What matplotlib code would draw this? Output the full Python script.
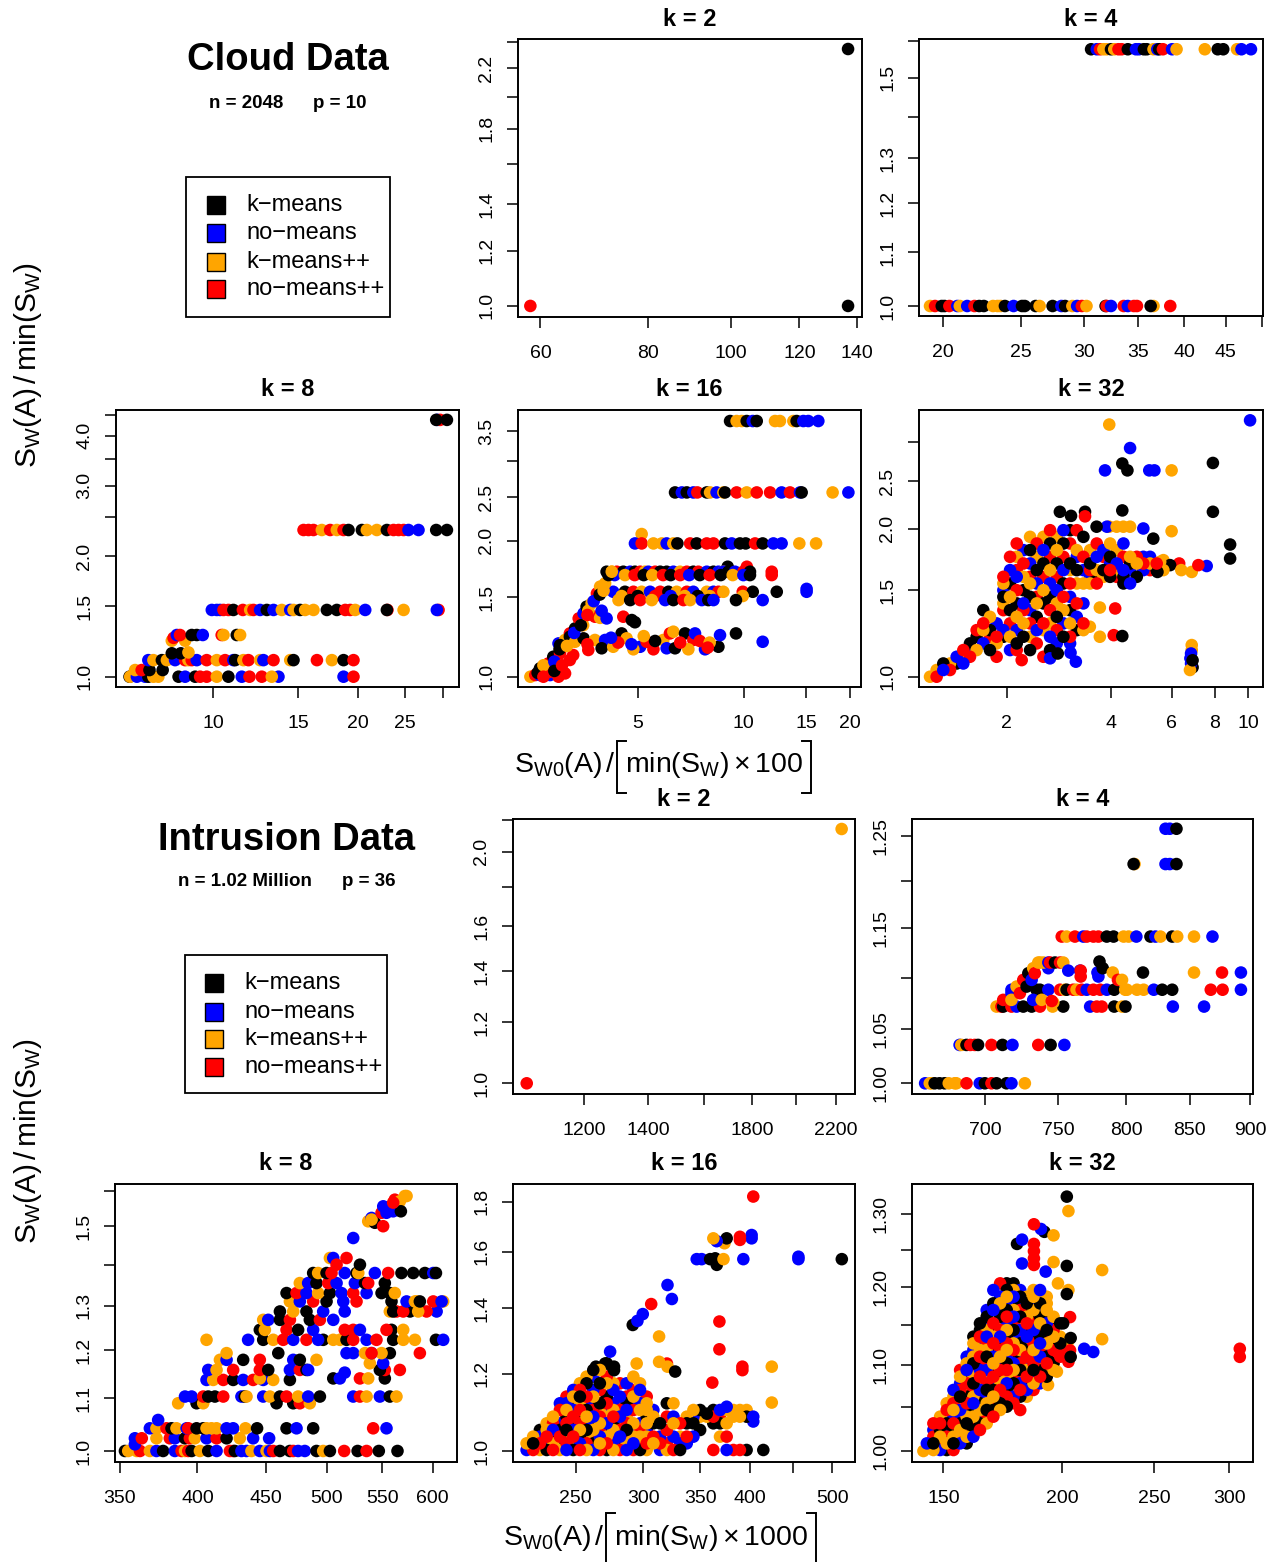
import matplotlib
matplotlib.use("Agg")
import matplotlib.pyplot as plt
from matplotlib.ticker import NullLocator
from matplotlib.patches import Rectangle

plt.rcParams['font.family'] = ['Liberation Sans', 'DejaVu Sans']
plt.rcParams['mathtext.fontset'] = 'custom'
plt.rcParams['mathtext.rm'] = 'Liberation Sans'
plt.rcParams['mathtext.it'] = 'Liberation Sans:italic'

# methods and their colours (K=k-means, B=no-means, O=k-means++, R=no-means++)
method_codes = "KBOR"
method_names = ["k\u2212means", "no\u2212means", "k\u2212means++", "no\u2212means++"]
method_colors = ["black", "blue", "orange", "red"]

# ---------------- Cloud data ----------------
cloud_k2_x = [58.4, 136.7, 136.7]
cloud_k2_y = [1.0, 1.0, 2.343]
cloud_k2_m = "RKK"

# rows: (y, x values, methods)
cloud_k4_rows = [
    (1.0, [19.28, 19.56, 19.94, 20.1, 20.38, 20.85, 21.0, 21.45, 21.9, 22.2, 22.5, 23.1, 23.4, 23.6, 23.9,
           24.5, 25.1, 25.3, 26.1, 26.4, 27.4, 28.1, 28.4, 29.0, 29.4, 29.8, 30.2, 31.9, 32.0, 32.4, 33.6,
           34.0, 34.6, 34.9, 36.6, 36.3, 38.4], "ORKKRBOBRKKOOOKBKKKOKBKOBROKRBRBRROKR"),
    (1.578, [30.6, 31.1, 31.4, 31.7, 32.0, 32.4, 32.7, 33.1, 33.4, 34.0, 34.8, 35.1, 35.6, 35.9, 36.6, 37.0,
             37.2, 37.6, 38.6, 39.1, 42.4, 44.0, 44.7, 46.5, 47.1, 48.4], "KBROOKORRKBBKKOBKRBOOKKOBB"),
]

cloud_k8_rows = [
    (1.0, [6.69, 6.71, 6.93, 7.21, 7.32, 7.50, 7.68, 8.46, 8.73, 9.16, 9.38, 9.68, 10.16, 10.74, 11.45, 11.88,
           12.60, 13.65, 13.22, 18.64, 19.55], "KOBBKOOKBKRROKBRRBOBR"),
    (1.039, [6.87, 7.09, 7.36, 7.84], "ORKK"),
    (1.10, [7.32, 7.50, 7.81, 8.0, 8.32, 8.73, 8.87, 9.01, 9.23, 9.68, 10.16, 10.57, 11.0, 11.09, 11.54, 11.82,
            12.50, 12.70, 13.33, 14.44, 14.67, 16.41, 17.63, 18.64, 19.55], "BOKOBRORBRORBKOROBROKROKR"),
    (1.144, [8.19, 8.55], "KK"),
    (1.15, [8.87], "O"),
    (1.23, [8.19, 8.73], "OO"),
    (1.25, [8.26], "R"),
    (1.271, [8.39, 8.52, 9.01, 9.23, 9.50, 10.40, 10.49, 11.18, 11.36], "BRKKBROKO"),
    (1.468, [9.92, 10.16, 10.32, 10.49, 10.74, 11.0, 11.51, 11.92, 12.11, 12.50, 12.91, 13.33, 13.87, 14.44,
             14.67, 15.14, 15.51, 16.14, 17.21, 18.05, 18.79, 19.24, 19.71, 20.68, 23.0, 22.94, 24.85, 29.38,
             29.14], "BBBRRKRORBKBOBOKOOKKRROBRKORB"),
    (2.325, [15.39, 15.76, 16.14, 16.80, 17.48, 18.05, 18.64, 19.09, 20.35, 20.84, 21.86, 22.94, 23.68, 24.26,
             24.85, 25.44, 26.69, 29.05, 30.58], "RRRORORKKOOKRRRBBKK"),
    (4.38, [29.2, 29.6, 29.05, 30.58], "BRKK"),
]

cloud_k16_rows = [
    (3.683, [9.14, 9.54, 9.86, 10.19, 10.60, 10.88, 12.26, 12.66, 13.82, 14.12, 14.75, 15.24, 16.27],
     "KOOKBKOOOKBBB"),
    (2.559, [6.38, 6.67, 6.89, 7.19, 7.38, 7.85, 8.02, 8.37, 8.75, 8.84, 9.54, 10.19, 10.88, 11.87, 12.80,
             13.52, 14.43, 14.59, 17.86, 19.80], "KBKBRKOBOKRORRBRBKOB"),
    (2.07, [5.13], "O"),
    (1.973, [4.91, 5.13, 5.54, 5.85, 6.04, 6.31, 6.48, 7.04, 7.35, 7.85, 8.20, 8.84, 9.24, 9.75, 10.12, 10.76,
             11.31, 12.13, 12.80, 14.37, 16.03], "BROOBOKRKRRKBKKRKBBOO"),
    (1.752, [9.0, 10.2], "KR"),
    (1.708, [4.08, 4.22, 4.36, 4.55, 4.76, 4.91, 5.08, 5.24, 5.36, 5.60, 5.79, 6.04, 6.31, 6.59, 6.89, 7.19,
             7.43, 7.85, 8.20, 8.47, 8.75, 8.75, 9.04, 9.44, 9.97, 10.30, 10.41, 12.0],
     "KORKBKROBRKKBORKRBKBOBKBRRKR"),
    (1.679, [4.3, 4.6, 4.9, 5.2, 5.5, 5.9, 6.2, 6.6, 7.0, 7.5, 8.0, 8.6, 9.3, 9.97, 10.41, 12.0],
     "BORKORKRBKRKOBKR"),
    (1.565, [15.07], "B"),
    (1.542, [4.26, 4.60, 4.86, 5.13, 5.42, 5.79, 6.11, 6.45, 6.89, 7.19, 7.85, 8.20, 8.47, 8.75, 9.93, 10.60,
             12.40, 15.07], "BKROBRKORBOBRORKKB"),
    (1.509, [4.5, 5.0, 5.6, 6.2, 6.8, 7.4, 8.0, 9.93], "OKRBOKOO"),
    (1.478, [4.41, 4.76, 5.08, 5.48, 5.98, 6.31, 6.74, 7.04, 7.60, 7.93, 8.20, 9.50, 11.31], "OKROBKROBKBKB"),
]
cloud_k16_x = [2.48, 2.56, 2.64, 2.73, 2.79, 2.82, 2.88, 2.98, 3.01, 3.11, 3.21, 3.32, 3.40, 3.51, 3.58, 3.70,
               3.83, 3.91, 4.04, 4.13, 4.22,
               2.82, 3.01, 3.11, 3.21, 2.64, 2.98,
               3.78, 3.91, 4.08, 4.55, 4.81, 4.91, 3.62, 3.95, 3.5,
               3.01, 3.21, 3.32, 3.51, 3.62, 3.78, 4.04, 3.95, 4.26, 4.50, 4.65, 5.08, 5.30, 5.91, 6.17, 6.04,
               6.38, 6.31, 6.81, 7.19, 7.27, 6.96, 8.47, 7.76, 8.56, 9.50, 11.31, 5.54, 4.86, 3.28,
               3.6, 4.4, 4.8, 5.6, 6.6, 7.5, 8.0, 5.2, 4.2, 7.9,
               2.6, 2.7, 2.9, 3.0, 3.15, 3.3, 3.45, 3.6, 3.75, 3.9, 4.0, 2.7, 2.9, 3.05]
cloud_k16_y = [1.0, 1.0085, 1.0434, 1.0346, 1.070, 1.0085, 1.107, 1.185, 1.126, 1.206, 1.247, 1.279, 1.346,
               1.381, 1.429, 1.454, 1.529, 1.583, 1.610, 1.679, 1.708,
               1.0258, 1.0346, 1.017, 1.089, 1.0085, 1.0,
               1.358, 1.35, 1.346, 1.358, 1.335, 1.32, 1.40, 1.40, 1.3,
               1.175, 1.226, 1.195, 1.216, 1.146, 1.206, 1.206, 1.156, 1.165, 1.247, 1.216, 1.165, 1.195,
               1.206, 1.247, 1.156, 1.156, 1.258, 1.247, 1.206, 1.247, 1.150, 1.165, 1.150, 1.236, 1.247,
               1.195, 1.150, 1.150, 1.117,
               1.18, 1.19, 1.18, 1.2, 1.19, 1.2, 1.19, 1.23, 1.22, 1.16,
               1.02, 1.06, 1.08, 1.15, 1.17, 1.25, 1.30, 1.37, 1.47, 1.52, 1.55, 1.0, 1.03, 1.06]
cloud_k16_m = ("ORKBRBKBRORKRBKOROOKO" + "RORRBR" + "ROBRKKOBO"
               + "KKOKROBKOKOBRORBKOKRBOKBBKBROR" + "RRBKRROOBR" + "KOBKOBKRBKORKR")

# columns: (x, y values, methods)
cloud_k32_cols = [
    (1.20, [1.0], "O"),
    (1.254, [1.0, 1.032], "RO"),
    (1.311, [1.032, 1.064], "BK"),
    (1.371, [1.064, 1.032], "OR"),
    (1.433, [1.098, 1.064], "BK"),
    (1.498, [1.133, 1.098, 1.064], "ROB"),
    (1.566, [1.169, 1.133, 1.098], "KBR"),
    (1.637, [1.244, 1.206, 1.133], "RKO"),
    (1.711, [1.366, 1.284, 1.244, 1.169], "KROB"),
    (1.789, [1.324, 1.244, 1.206, 1.133], "OKRK"),
    (1.870, [1.284, 1.206, 1.169, 1.098], "BROR"),
    (1.956, [1.597, 1.548, 1.500, 1.454, 1.410, 1.366, 1.244, 1.206], "ROBKORBK"),
    (2.045, [1.754, 1.648, 1.548, 1.454, 1.366, 1.284, 1.206, 1.133], "RBKOKROB"),
    (2.138, [1.867, 1.754, 1.648, 1.597, 1.500, 1.410, 1.324, 1.244, 1.169, 1.133], "RORBRKOBKR"),
    (2.236, [1.810, 1.700, 1.597, 1.500, 1.410, 1.366, 1.284, 1.206], "BROKBROK"),
    (2.337, [1.926, 1.810, 1.700, 1.597, 1.548, 1.454, 1.366, 1.284, 1.206, 1.133], "OKBROKBROK"),
    (2.443, [1.867, 1.754, 1.648, 1.548, 1.454, 1.410, 1.324, 1.244, 1.169], "ROKBROKBR"),
    (2.554, [1.926, 1.810, 1.700, 1.597, 1.500, 1.410, 1.284, 1.244, 1.098], "OBKROKROR"),
    (2.670, [1.987, 1.867, 1.754, 1.648, 1.548, 1.454, 1.366, 1.284, 1.206, 1.133], "RKROBKROBK"),
    (2.792, [1.926, 1.810, 1.700, 1.597, 1.500, 1.410, 1.324, 1.244, 1.169], "OOKRBOKRB"),
    (2.918, [1.987, 1.867, 1.754, 1.648, 1.548, 1.454, 1.366, 1.284, 1.206], "BKRBKROBK"),
    (3.051, [1.987, 1.867, 1.700, 1.648, 1.548, 1.454, 1.366, 1.284, 1.206, 1.169], "KRKORBKORB"),
    (3.19, [1.987, 1.810, 1.754, 1.648, 1.548, 1.410, 1.324, 1.244], "ROBKORBK"),
    (3.334, [1.926, 1.754, 1.648, 1.548, 1.410, 1.284, 1.244], "KRBOBRO"),
    (3.486, [1.810, 1.700, 1.648, 1.597, 1.548], "OKRBO"),
    (3.644, [1.867, 1.754, 1.648, 1.597, 1.548], "RBOKR"),
    (3.81, [1.810, 1.754, 1.648, 1.597], "BRKO"),
    (3.983, [1.867, 1.754, 1.700, 1.648, 1.597], "OKBRK"),
    (4.164, [1.810, 1.700, 1.648, 1.597], "OBOR"),
    (4.353, [1.867, 1.754, 1.648, 1.597, 1.548], "BRBKK"),
    (4.551, [1.754, 1.700, 1.648, 1.548], "OKBB"),
    (4.758, [1.754, 1.700, 1.597], "ROK"),
    (4.97, [1.754, 1.700, 1.648], "BRB"),
    (5.197, [1.754, 1.700, 1.648], "BOR"),
    (5.433, [1.700, 1.648], "RK"),
    (5.68, [1.727, 1.648], "OO"),
]
cloud_k32_x = [10.12, 3.96, 4.55, 4.32, 4.47, 3.85, 5.17, 5.35, 6.0, 7.90, 7.90, 4.32, 8.86, 8.86, 6.0, 4.97,
               5.31, 3.96, 4.16, 4.35, 4.55, 3.64, 3.90, 2.85, 3.07, 3.37, 3.37, 5.56, 6.31, 6.40, 6.86, 7.17,
               7.58, 5.94, 5.46, 3.72, 4.12, 4.32, 3.72, 4.08, 3.48, 3.17, 2.81, 2.67, 2.21, 3.06,
               6.86, 6.86, 6.83, 6.80, 6.90, 6.83, 6.90, 6.78]
cloud_k32_y = [3.325, 3.26, 2.92, 2.716, 2.63, 2.63, 2.63, 2.63, 2.63, 2.723, 2.166, 2.18, 1.858, 1.740, 1.978,
               2.003, 1.91, 2.02, 2.02, 2.02, 2.02, 2.02, 2.02, 2.166, 2.125, 2.166, 2.12, 1.714, 1.70, 1.648,
               1.634, 1.687, 1.680, 1.687, 1.634, 1.383, 1.377, 1.210, 1.206, 1.215, 1.264, 1.073, 1.115, 1.09,
               1.081, 1.119,
               1.16, 1.133, 1.115, 1.09, 1.08, 1.064, 1.045, 1.032]
cloud_k32_m = ("BOBKKBBBOK" + "KKKKOBKOOO" + "OKBKKKRORO" + "ORBKKORKOR" + "OBKBRB"
               + "OOBBKBKO")

# ---------------- Intrusion data ----------------
intr_k2_x = [1045, 2232]
intr_k2_y = [1.0, 2.141]
intr_k2_m = "RO"

intr_k4_rows = [
    (1.0, [661, 663.9, 665, 667, 670.1, 673.3, 676, 679.8, 680.9, 687.5, 696.2, 699.6, 704.0, 707.4, 714.1,
           717.5, 726.7], "BOOKKKOOORBKRKKBO"),
    (1.0352, [683, 684.1, 687.5, 690, 692.9, 695.1, 704.0, 711.4, 718.2, 736.0, 744.7, 754.5], "BOKRRKRKBRKB"),
    (1.0716, [707.4, 710.7, 711.9, 717.5, 721.0, 725.6, 731.4, 737.2, 746.1, 753.7, 773.2, 778.1, 781.8, 791.1,
              797.0, 799.6, 836.4, 861.6], "ORKRBKKROKBRRKOKBB"),
    (1.088, [717.5, 723.3, 734.8, 737.2, 743.1, 751.4, 754.9, 756.1, 760.9, 763.3, 767.0, 770.7, 775.6, 780.6,
             785.5, 791.1, 799.4, 800.7, 808.4, 813.5, 821.4, 828.0, 835.9, 867.1, 876.9, 892.3],
     "BOKKBROKRORBRRBKOOOOBKKRRB"),
    (1.1414, [752.6, 756.1, 762.1, 768.2, 770.7, 775.6, 779.3, 785.5, 790.6, 798.2, 802.0, 807.9, 818.8, 822.7,
              826.6, 835.9, 839.9, 853.4, 868.5], "RORBRRRKKOOBKBOKOOB"),
    (1.2185, [806.5, 805.8, 830.6, 834.0, 839.3], "OKBBK"),
    (1.2579, [830.6, 834.0, 839.3], "BBK"),
]
intr_k4_x = [711.9, 717.5, 721.0, 725.6, 729.1, 732.5, 737.2, 717.5, 723.3, 727.9, 731.4, 733.6, 743.1, 732.5,
             738.4, 746.6, 745.5,
             736.0, 739.6, 743.1, 744.3, 747.8, 751.4, 753.7, 757.3, 765.8, 766.3, 766.3, 778.6, 779.3, 780.1,
             782.5, 790.0, 793.9, 797.0, 813.0, 853.4, 876.4, 892.3]
intr_k4_y = [1.0781, 1.0846, 1.0911, 1.0977, 1.1043, 1.1093, 1.115, 1.0781, 1.0846, 1.0911, 1.0977, 1.1043,
             1.1093, 1.0781, 1.0781, 1.0755, 1.0770,
             1.115, 1.115, 1.115, 1.115, 1.115, 1.115, 1.115, 1.1069, 1.1069, 1.1069, 1.1010, 1.1050, 1.1010,
             1.116, 1.1093, 1.1050, 1.0977, 1.0977, 1.1050, 1.1050, 1.1050, 1.1050]
intr_k4_m = "RBORKOOORKBRBBOOR" + "OOBRKROBBRRBBKKOROKORB"

intr_k8_rows = [
    (1.0, [353.0, 355.0, 360.2, 362.3, 368.5, 372.7, 377.0, 384.7, 389.2, 391.5, 393.7, 396.0, 401.7, 407.5,
           413.4, 423.0, 425.4, 426.6, 431.5, 435.3, 439.0, 445.4, 450.6, 453.2, 455.8, 461.1, 469.1, 471.8,
           475.8, 481.3, 491.1, 496.8, 502.6, 515.1, 527.2, 535.4, 546.8, 564.7],
     "KOOROBKBRORKOKBRRKBBOBOBRKKRBBKOKRKRKK"),
    (1.0121, [359.1], "B"),
    (1.0232, [359.1, 363.4, 372.7, 381.4, 384.7, 391.5, 394.8, 398.2, 406.3, 413.4, 420.6, 430.3, 440.3, 452.6],
     "BRORBKROBRKOBB"),
    (1.0418, [368.5, 372.7, 379.2, 382.5, 385.8, 392.6, 393.7, 399.4, 404.0, 406.3, 409.8, 413.4, 420.6, 425.4,
              434.5, 443.3, 466.4, 474.5, 488.3, 541.5, 554.1], "BORKOBRKKOOOBBOKKBKRB"),
    (1.0576, [373.8], "B"),
    (1.09, [386.9, 399.4, 404.0, 458.4, 471.8, 477.2, 485.5], "OKOKKRO"),
    (1.1033, [391.5, 396.0, 404.0, 407.5, 412.2, 418.2, 431.5, 434.0, 435.3, 448.0, 453.2, 461.1, 466.4, 475.8,
              484.1, 494.0, 523.2, 529.3, 535.4, 547.8, 557.3, 563.7], "BBRKKRBKOBOKROBKBROBKO"),
    (1.1369, [406.3, 411.0, 418.2, 425.4, 432.8, 440.3, 448.0, 455.8, 469.1], "BORKBRBOK"),
    (1.14, [445.4, 505.5, 529.3, 536.9, 511.3, 552.5], "OKROBK"),
    (1.152, [515.6], "B"),
    (1.1576, [407.5, 413.4, 425.4, 445.4, 451.9, 469.1, 477.2, 482.7, 484.1, 552.5, 547.8, 567.0], "BORRKBRKBRKR"),
    (1.1716, [550.9, 538.4], "BO"),
    (1.1789, [432.8, 415.8, 420.6, 445.4, 471.8, 477.2, 491.1], "KOBRBKO"),
    (1.1933, [459.8, 420.6, 517.2, 523.2, 540.0, 557.3, 586.9, 533.9, 549.4, 540.0], "KOBBBKROOR"),
    (1.2223, [406.3, 436.5, 448.0, 455.8, 463.7, 471.8, 482.7, 496.8, 505.5, 511.3, 517.2, 523.2, 535.4, 544.6,
              560.5, 570.3, 581.9, 603.4, 611.0, 492.5], "OBKORBRKOOKRBRKOOKBB"),
    (1.2445, [445.4, 449.3, 466.4, 475.8, 488.3, 515.6, 523.2, 529.3, 558.9, 554.1, 570.3], "KORKBRRBKRO"),
    (1.2672, [448.0, 451.9, 461.1, 469.1, 485.5, 494.0, 505.5], "OBKRKRB"),
    (1.2865, [461.1, 471.8, 482.7, 496.8, 515.6, 557.3, 563.7, 577.0, 604.1, 593.7, 585.2, 560.5, 570.3],
     "KOKBBORKBROKR"),
    (1.31, [469.1, 477.2, 488.3, 499.7, 514.3, 526.2, 583.6, 600.6, 611.0, 573.6, 558.9, 581.9, 586.9, 609.3],
     "OBRKBROROBKOKB"),
    (1.33, [466.4, 474.5, 482.7, 492.5, 502.6, 512.7, 523.2, 535.4, 549.4, 557.3, 562.1], "KRBOKBRBKKO"),
    (1.3542, [477.2, 484.1, 491.1, 501.1, 508.4, 524.7, 533.9, 536.9, 552.5], "OBKRBBKRK"),
    (1.379, [488.3, 492.5, 499.7, 504.0, 515.6, 526.2, 527.8, 543.1, 555.7, 568.6, 580.2, 592.0, 600.6, 603.4],
     "KOKRBKOBRKKKBK"),
]
intr_k8_x = [502.6, 505.5, 508.4, 517.2, 529.3, 523.2, 536.9, 540.0, 543.1, 550.9, 540.0, 549.4, 554.1, 560.5,
             551.0, 562.1, 567.0, 571.9, 573.6, 568.0, 560.5]
intr_k8_y = [1.4169, 1.4169, 1.3999, 1.4169, 1.3999, 1.469, 1.514, 1.5232, 1.51, 1.5006, 1.5186, 1.5375, 1.5375,
             1.5416, 1.5555, 1.5743, 1.5696, 1.5847, 1.5847, 1.5416, 1.566]
intr_k8_m = "OBRRKBOBKRORBBBROOOKR"

intr_k16_cols = [
    (219.0, [1.0024, 1.0182], "BO"),
    (222.9, [1.0024, 1.0182, 1.0344], "RKO"),
    (227.0, [1.0024, 1.0182, 1.0344, 1.0508], "ORBK"),
    (231.2, [1.0024, 1.0182, 1.0344, 1.0508, 1.0674], "KBROO"),
    (235.2, [1.0024, 1.0182, 1.0344, 1.0508, 1.0674, 1.0843], "ROKBRO"),
    (239.6, [1.0024, 1.0182, 1.0344, 1.0508, 1.0674, 1.1015, 1.1190], "OKRKBRB"),
    (243.9, [1.0024, 1.0182, 1.0344, 1.0508, 1.0674, 1.0843, 1.1015, 1.1190, 1.1368], "BROKRKOBR"),
    (248.4, [1.0024, 1.0182, 1.0344, 1.0508, 1.0674, 1.0843, 1.1015, 1.1190, 1.1368, 1.1548], "KORBKRBKOB"),
    (252.9, [1.0024, 1.0182, 1.0344, 1.0508, 1.0674, 1.0843, 1.1015, 1.1190, 1.1368, 1.1548, 1.1730],
     "RBKORKROKRO"),
    (257.5, [1.0024, 1.0182, 1.0344, 1.0508, 1.0674, 1.0843, 1.1015, 1.1190, 1.1368, 1.1730, 1.1916],
     "OROKBOKBRKO"),
    (262.2, [1.0024, 1.0182, 1.0344, 1.0508, 1.0674, 1.0843, 1.1015, 1.1190, 1.1368, 1.1548, 1.1916, 1.2105],
     "BKROKBRKOBBK"),
    (266.9, [1.0024, 1.0182, 1.0344, 1.0508, 1.0674, 1.0843, 1.1015, 1.1190, 1.1548, 1.1730, 1.2105],
     "ROBROROKRKO"),
    (271.9, [1.0024, 1.0182, 1.0344, 1.0508, 1.0674, 1.0843, 1.1015, 1.1190, 1.1368, 1.1730, 1.1916, 1.2297],
     "KROKBOBRKORK"),
    (276.8, [1.0024, 1.0182, 1.0344, 1.0508, 1.0674, 1.0843, 1.1015, 1.1190, 1.1548, 1.1730, 1.2105],
     "OBROKROBBOK"),
    (281.8, [1.0024, 1.0182, 1.0344, 1.0508, 1.0674, 1.0843, 1.1015, 1.1190, 1.1368, 1.1730], "RKBROBROBR"),
    (286.9, [1.0024, 1.0182, 1.0344, 1.0508, 1.0674, 1.0843, 1.1015, 1.1190, 1.1368, 1.1730], "BORKROBKRB"),
    (292.2, [1.0024, 1.0182, 1.0344, 1.0508, 1.0674, 1.1015, 1.1190, 1.1368, 1.1548, 1.1916], "RBOBORBORO"),
    (297.5, [1.0024, 1.0182, 1.0344, 1.0508, 1.0674, 1.1015, 1.1190, 1.1548, 1.1730], "KRORBOBBO"),
    (302.9, [1.0024, 1.0182, 1.0344, 1.0508, 1.0674, 1.0843, 1.1015, 1.1190, 1.1368], "OROBOKOOR"),
    (308.4, [1.0182, 1.0344, 1.0674, 1.0843, 1.1015], "ORKOB"),
    (314.0, [1.0024, 1.0182, 1.0344, 1.0674], "BRBK"),
    (319.8, [1.0024, 1.0182, 1.0508, 1.0843, 1.1190], "ORRRK"),
    (325.6, [1.0024, 1.0344, 1.0674, 1.0843, 1.1190], "RBOBO"),
    (331.5, [1.0024, 1.0182, 1.0344, 1.0674], "KBOR"),
    (337.5, [1.0182, 1.0344, 1.0674, 1.0843], "BRKO"),
    (343.6, [1.0344, 1.0674, 1.0843, 1.1015], "BKBO"),
    (349.9, [1.0508, 1.0843, 1.1015], "KOK"),
    (356.3, [1.0843, 1.092], "OK"),
    (362.6, [1.0024, 1.0674, 1.0843, 1.1015], "RKRK"),
    (369.2, [1.0344, 1.0674, 1.0843, 1.1015], "OKRB"),
    (375.9, [1.0024, 1.0344, 1.0674, 1.1015], "BROO"),
    (382.8, [1.0024, 1.0843, 1.1015], "ROO"),
    (389.6, [1.0024, 1.0843, 1.1015], "ROO"),
    (396.7, [1.0024, 1.0843, 1.1015], "KKO"),
    (403.9, [1.0843], "B"),
    (415.0, [1.0024], "K"),
]
intr_k16_x = [403.9, 402.1, 402.1, 389.6, 389.6, 375.9, 362.6, 365.9, 373.7,
              346.7, 351.4, 359.5, 364.4, 366.0, 372.7, 393.2, 456.3, 456.3, 513.0,
              320.4, 324.2, 306.6, 299.7, 295.4, 291.7, 313.2, 368.6, 368.6,
              313.2, 319.9, 327.1, 320.4, 392.2, 392.2, 361.6, 424.6, 424.6, 403.9, 375.9,
              294.8, 277.3, 277.3, 270.7, 264.1, 274.4]
intr_k16_y = [1.822, 1.664, 1.651, 1.657, 1.645, 1.651, 1.651, 1.64, 1.632,
              1.572, 1.572, 1.572, 1.575, 1.551, 1.572, 1.572, 1.581, 1.572, 1.572,
              1.479, 1.431, 1.414, 1.381, 1.359, 1.346, 1.310, 1.357, 1.271,
              1.234, 1.229, 1.206, 1.22, 1.22, 1.21, 1.175, 1.22, 1.121, 1.072, 1.110,
              1.229, 1.22, 1.21, 1.229, 1.22, 1.264]
intr_k16_m = "RBBRRKOBO" + "BBKKKOBBBK" + "BBRBBKORR" + "ORKORRROOBB" + "OKKKKB"

intr_k32_cols = [
    (142.9, [1.0], "O"),
    (144.1, [1.0085], "B"),
    (146.4, [1.016, 1.0085, 1.0011, 1.0236, 1.0311], "RKOBR"),
    (148.8, [1.0011, 1.0085, 1.016, 1.0236, 1.0311, 1.0388], "BROKRO"),
    (151.2, [1.0011, 1.0085, 1.016, 1.0236, 1.0311, 1.0388, 1.0465, 1.0543], "KORBKORO"),
    (153.7, [1.0011, 1.0085, 1.016, 1.0236, 1.0311, 1.0388, 1.0465, 1.0543, 1.0621, 1.0700], "RKOKRBOROB"),
    (156.2, [1.0085, 1.016, 1.0236, 1.0311, 1.0388, 1.0465, 1.0543, 1.0621, 1.0700, 1.0779, 1.0859, 1.0939],
     "BROKRBOKRBOR"),
    (158.7, [1.0085, 1.016, 1.0236, 1.0311, 1.0388, 1.0465, 1.0543, 1.0621, 1.0700, 1.0779, 1.0859, 1.0939,
             1.1020, 1.1102], "KORKOBRKORKBOB"),
    (161.3, [1.016, 1.0236, 1.0311, 1.0388, 1.0465, 1.0543, 1.0621, 1.0700, 1.0779, 1.0859, 1.0939, 1.1020,
             1.1102, 1.1184, 1.1267, 1.1351], "BKROKBORKORKOBOK"),
    (163.9, [1.0236, 1.0311, 1.0388, 1.0465, 1.0543, 1.0621, 1.0700, 1.0779, 1.0859, 1.0939, 1.1020, 1.1102,
             1.1184, 1.1267, 1.1351, 1.1435, 1.1520], "RKBOKRBORBKROBRKK"),
    (166.6, [1.0311, 1.0388, 1.0465, 1.0543, 1.0621, 1.0700, 1.0779, 1.0859, 1.0939, 1.1020, 1.1102, 1.1184,
             1.1267, 1.1351, 1.1435, 1.1520, 1.1605, 1.1691], "ORKOBKROBRKORBOBKB"),
    (169.3, [1.0388, 1.0465, 1.0543, 1.0621, 1.0700, 1.0779, 1.0859, 1.0939, 1.1020, 1.1102, 1.1184, 1.1267,
             1.1351, 1.1435, 1.1520, 1.1605, 1.1691, 1.1778, 1.1953], "RKROKBRKOBKROKROBKB"),
    (172.1, [1.0465, 1.0543, 1.0621, 1.0700, 1.0779, 1.0859, 1.0939, 1.1020, 1.1102, 1.1184, 1.1267, 1.1351,
             1.1435, 1.1520, 1.1605, 1.1691, 1.1778, 1.1865, 1.2042], "OKBROKRBORKBROKBOBR"),
    (174.9, [1.0504, 1.0621, 1.0700, 1.0779, 1.0859, 1.0939, 1.1020, 1.1102, 1.1184, 1.1267, 1.1351, 1.1435,
             1.1520, 1.1605, 1.1691, 1.1778, 1.1865, 1.1953, 1.2042], "KRKBORKBORKOBRKBOKK"),
    (177.8, [1.0543, 1.0621, 1.0700, 1.0779, 1.0859, 1.0939, 1.1020, 1.1102, 1.1184, 1.1267, 1.1351, 1.1435,
             1.1520, 1.1605, 1.1691, 1.1778, 1.1865, 1.1953, 1.2042], "RBOKROBKROBKRBOKBOK"),
    (180.7, [1.0465, 1.0621, 1.0700, 1.0779, 1.0859, 1.0939, 1.1020, 1.1102, 1.1184, 1.1267, 1.1351, 1.1435,
             1.1520, 1.1605, 1.1691, 1.1778, 1.1865, 1.1953], "RKRBOKRBOKRBOKRBKB"),
    (183.6, [1.0621, 1.0700, 1.0779, 1.0859, 1.0939, 1.1020, 1.1102, 1.1184, 1.1267, 1.1351, 1.1435, 1.1520,
             1.1605, 1.1691, 1.1778, 1.1865], "OBKROBRKOBKROKKO"),
    (186.6, [1.0700, 1.0779, 1.0859, 1.0939, 1.1020, 1.1102, 1.1184, 1.1267, 1.1351, 1.1435, 1.1520, 1.1605,
             1.1691, 1.1778, 1.1865, 1.1953], "ROBKRBORKBRKOBOO"),
    (189.6, [1.0779, 1.0859, 1.0939, 1.1020, 1.1102, 1.1184, 1.1267, 1.1351, 1.1435, 1.1520, 1.1605, 1.1691,
             1.1778, 1.1865, 1.1953], "BRKOBRBKROKBKOB"),
    (192.7, [1.0859, 1.0939, 1.1020, 1.1102, 1.1184, 1.1267, 1.1351, 1.1435, 1.1520, 1.1605, 1.1691, 1.1778,
             1.1865], "KORKBORKBKOOO"),
    (195.9, [1.0939, 1.1020, 1.1102, 1.1184, 1.1267, 1.1351, 1.1435, 1.1520, 1.1605], "OKRRKORKO"),
    (199.1, [1.1102, 1.1184, 1.1267, 1.1351, 1.1520], "RRKOK"),
]
intr_k32_x = [202.3, 203.1, 186.8, 190.0, 191.6, 195.9, 179.3, 181.5, 186.8, 186.8, 186.8, 186.8, 181.5, 195.9,
              202.3, 220.4, 198.0, 203.1, 202.3, 192.2, 203.9, 200.5, 204.2, 203.1, 203.9, 203.1, 204.2, 220.4,
              211.0, 215.7, 307.7, 307.7, 197.5, 193.3]
intr_k32_y = [1.3257, 1.3047, 1.2857, 1.279, 1.275, 1.27, 1.258, 1.264, 1.258, 1.248, 1.238, 1.229, 1.231, 1.233,
              1.2277, 1.2221, 1.2042, 1.1953, 1.19, 1.22, 1.16, 1.152, 1.1334, 1.13, 1.118, 1.104, 1.11, 1.132,
              1.12, 1.116, 1.12, 1.11, 1.092, 1.076]
intr_k32_m = "KORBKOKBRRRRBOKOOOKBRKKORRKOBBRROO"


def rows_points(rows):
    x, y, m = [], [], ""
    for yv, xs, ms in rows:
        if len(xs) != len(ms):
            raise ValueError(f"row {yv}: {len(xs)} values, {len(ms)} methods")
        x += list(xs)
        y += [yv] * len(xs)
        m += ms
    return x, y, m


def cols_points(cols):
    x, y, m = [], [], ""
    for xv, ys, ms in cols:
        if len(ys) != len(ms):
            raise ValueError(f"col {xv}: {len(ys)} values, {len(ms)} methods")
        x += [xv] * len(ys)
        y += list(ys)
        m += ms
    return x, y, m


def join(*parts):
    x, y, m = [], [], ""
    for px, py, pm in parts:
        if not (len(px) == len(py) == len(pm)):
            raise ValueError(f"length mismatch {len(px)} {len(py)} {len(pm)}")
        x += list(px)
        y += list(py)
        m += pm
    return x, y, m


def mixed(pts):
    # interleave drawing order so that no method sits systematically on top
    x, y, m = pts
    n = len(x)
    order = sorted(range(n), key=lambda i: ((i * 61) % 97, i))
    return [x[i] for i in order], [y[i] for i in order], "".join(m[i] for i in order)


W, H = 1273, 1562
fig = plt.figure(figsize=(W / 100, H / 100), dpi=100)

color_of = dict(zip(method_codes, method_colors))


def panel(box, title, pts, xlim, ylim, xticks, xlabels, yticks, ylabels):
    l, t, r, b = box
    ax = fig.add_axes([l / W, 1 - b / H, (r - l) / W, (b - t) / H])
    x, y, m = pts
    ax.scatter(x, y, c=[color_of[c] for c in m], s=82, linewidths=0, zorder=3)
    ax.set_xscale('log')
    ax.set_yscale('log')
    ax.set_xlim(*xlim)
    ax.set_ylim(*ylim)
    ax.set_xticks(xticks)
    ax.set_xticklabels(xlabels)
    ax.set_yticks(yticks)
    ax.set_yticklabels(ylabels, rotation=90, va='center')
    ax.xaxis.set_minor_locator(NullLocator())
    ax.yaxis.set_minor_locator(NullLocator())
    ax.tick_params(direction='out', length=8, width=1.1, labelsize=14)
    ax.tick_params(axis='x', pad=12)
    ax.tick_params(axis='y', pad=8.5)
    for s in ax.spines.values():
        s.set_linewidth(1.4)
    ov.text((l + r) / 2, t - 20, title, ha='center', va='center', fontsize=17, fontweight='bold')
    return ax


ov = fig.add_axes([0, 0, 1, 1])
ov.set_xlim(0, W)
ov.set_ylim(H, 0)
ov.axis('off')

# Cloud panels
panel((518, 39, 862, 317), "k = 2", (cloud_k2_x, cloud_k2_y, cloud_k2_m), (56.5, 141.9), (0.964, 2.422),
      [60, 80, 100, 120, 140], ["60", "80", "100", "120", "140"],
      [1.0, 1.2, 1.4, 1.6, 1.8, 2.0, 2.2, 2.4], ["1.0", "1.2", "1.4", "", "1.8", "", "2.2", ""])
panel((919, 39, 1263, 316), "k = 4", rows_points(cloud_k4_rows), (18.68, 50.1), (0.9824, 1.607),
      [20, 25, 30, 35, 40, 45, 50], ["20", "25", "30", "35", "40", "45", ""],
      [1.0, 1.1, 1.2, 1.3, 1.4, 1.5, 1.6], ["1.0", "1.1", "1.2", "1.3", "", "1.5", ""])
panel((116, 410, 459, 687), "k = 8", rows_points(cloud_k8_rows), (6.27, 32.4), (0.9425, 4.636),
      [10, 15, 20, 25, 30], ["10", "15", "20", "25", ""],
      [1.0, 1.5, 2.0, 2.5, 3.0, 3.5, 4.0, 4.5], ["1.0", "1.5", "2.0", "", "3.0", "", "4.0", ""])
panel((518, 410, 861, 687), "k = 16",
      join(rows_points(cloud_k16_rows), (cloud_k16_x, cloud_k16_y, cloud_k16_m)), (2.287, 21.5), (0.9489, 3.896),
      [5, 10, 15, 20], ["5", "10", "15", "20"],
      [1.0, 1.5, 2.0, 2.5, 3.0, 3.5], ["1.0", "1.5", "2.0", "2.5", "", "3.5"])
panel((919, 410, 1263, 687), "k = 32",
      mixed(join(cols_points(cloud_k32_cols), (cloud_k32_x, cloud_k32_y, cloud_k32_m))),
      (1.115, 11.03), (0.953, 3.49),
      [2, 4, 6, 8, 10], ["2", "4", "6", "8", "10"],
      [1.0, 1.5, 2.0, 2.5, 3.0], ["1.0", "1.5", "2.0", "2.5", ""])

# Intrusion panels
panel((513, 819, 855, 1094), "k = 2", (intr_k2_x, intr_k2_y, intr_k2_m), (1011, 2305), (0.9685, 2.206),
      [1200, 1400, 1600, 1800, 2000, 2200], ["1200", "1400", "", "1800", "", "2200"],
      [1.0, 1.2, 1.4, 1.6, 1.8, 2.0, 2.2], ["1.0", "1.2", "1.4", "1.6", "", "2.0", ""])
panel((912, 819, 1253, 1094), "k = 4",
      join(rows_points(intr_k4_rows), (intr_k4_x, intr_k4_y, intr_k4_m)), (652.8, 902.6), (0.9904, 1.269),
      [700, 750, 800, 850, 900], ["700", "750", "800", "850", "900"],
      [1.00, 1.05, 1.10, 1.15, 1.20, 1.25], ["1.00", "1.05", "", "1.15", "", "1.25"])
panel((115, 1184, 457, 1462), "k = 8",
      join(rows_points(intr_k8_rows), (intr_k8_x, intr_k8_y, intr_k8_m)), (347, 625.7), (0.9803, 1.6195),
      [350, 400, 450, 500, 550, 600], ["350", "400", "450", "500", "550", "600"],
      [1.0, 1.1, 1.2, 1.3, 1.4, 1.5, 1.6], ["1.0", "1.1", "1.2", "1.3", "", "1.5", ""])
panel((513, 1184, 855, 1462), "k = 16",
      mixed(join(cols_points(intr_k16_cols), (intr_k16_x, intr_k16_y, intr_k16_m))),
      (211.1, 531.6), (0.9744, 1.8767),
      [250, 300, 350, 400, 450, 500], ["250", "300", "350", "400", "", "500"],
      [1.0, 1.2, 1.4, 1.6, 1.8], ["1.0", "1.2", "1.4", "1.6", "1.8"])
panel((912, 1184, 1253, 1462), "k = 32",
      mixed(join(cols_points(intr_k32_cols), (intr_k32_x, intr_k32_y, intr_k32_m))),
      (139.0, 317.7), (0.9879, 1.3444),
      [150, 200, 250, 300], ["150", "200", "250", "300"],
      [1.00, 1.05, 1.10, 1.15, 1.20, 1.25, 1.30], ["1.00", "", "1.10", "", "1.20", "", "1.30"])

# axis labels
ylab = r'$\mathregular{S_W(A)\,/\,min(S_W)}$'
ov.text(28, 365, ylab, rotation=90, ha='center', va='center', fontsize=21.5)
ov.text(28, 1141, ylab, rotation=90, ha='center', va='center', fontsize=21.5)

renderer = fig.canvas.get_renderer()


def xlabel_with_brackets(x0, baseline, scale_text, top, bottom):
    # "S_W0(A)/[min(S_W) x scale]" with tall square brackets
    t1 = ov.text(x0, baseline, r'$\mathregular{S_{W0}(A)\,/}$', ha='left', va='baseline', fontsize=20.5)
    xa = t1.get_window_extent(renderer).x1 + 1
    ov.plot([xa + 9, xa, xa, xa + 9], [top, top, bottom, bottom], color='black', lw=1.4,
            solid_joinstyle='miter')
    t2 = ov.text(xa + 8, baseline, r'$\mathregular{min(S_W)\times' + scale_text + '}$',
                 ha='left', va='baseline', fontsize=20.5)
    xb = t2.get_window_extent(renderer).x1 + 8
    ov.plot([xb - 9, xb, xb, xb - 9], [top, top, bottom, bottom], color='black', lw=1.4,
            solid_joinstyle='miter')


xlabel_with_brackets(514, 772, '100', 741, 793)
xlabel_with_brackets(503, 1545, '1000', 1513, 1565)
ov.set_xlim(0, W)
ov.set_ylim(H, 0)

# headings and legends
ov.text(288, 60, "Cloud Data", ha='center', va='center', fontsize=27.5, fontweight='bold')
ov.text(246, 103, "n = 2048", ha='center', va='center', fontsize=13.5, fontweight='bold')
ov.text(340, 103, "p = 10", ha='center', va='center', fontsize=13.5, fontweight='bold')
ov.text(286, 840, "Intrusion Data", ha='center', va='center', fontsize=27.5, fontweight='bold')
ov.text(245, 882, "n = 1.02 Million", ha='center', va='center', fontsize=13.5, fontweight='bold')
ov.text(369, 882, "p = 36", ha='center', va='center', fontsize=13.5, fontweight='bold')


def legend_box(l, t, r, b, sq_x, txt_x, rows_y):
    ov.add_patch(Rectangle((l, t), r - l, b - t, fill=False, lw=1.3, ec='black'))
    for name, col, ry in zip(method_names, method_colors, rows_y):
        ov.add_patch(Rectangle((sq_x, ry - 9), 18, 18, fc=col, ec='black', lw=1.0))
        ov.text(txt_x, ry, name, ha='left', va='center', fontsize=17)


legend_box(186, 177, 390, 317, 207, 246, [205, 233, 262, 289])
legend_box(185, 955, 387, 1093, 205, 244, [983, 1012, 1039, 1067])

fig.savefig("out.png", dpi=100)
